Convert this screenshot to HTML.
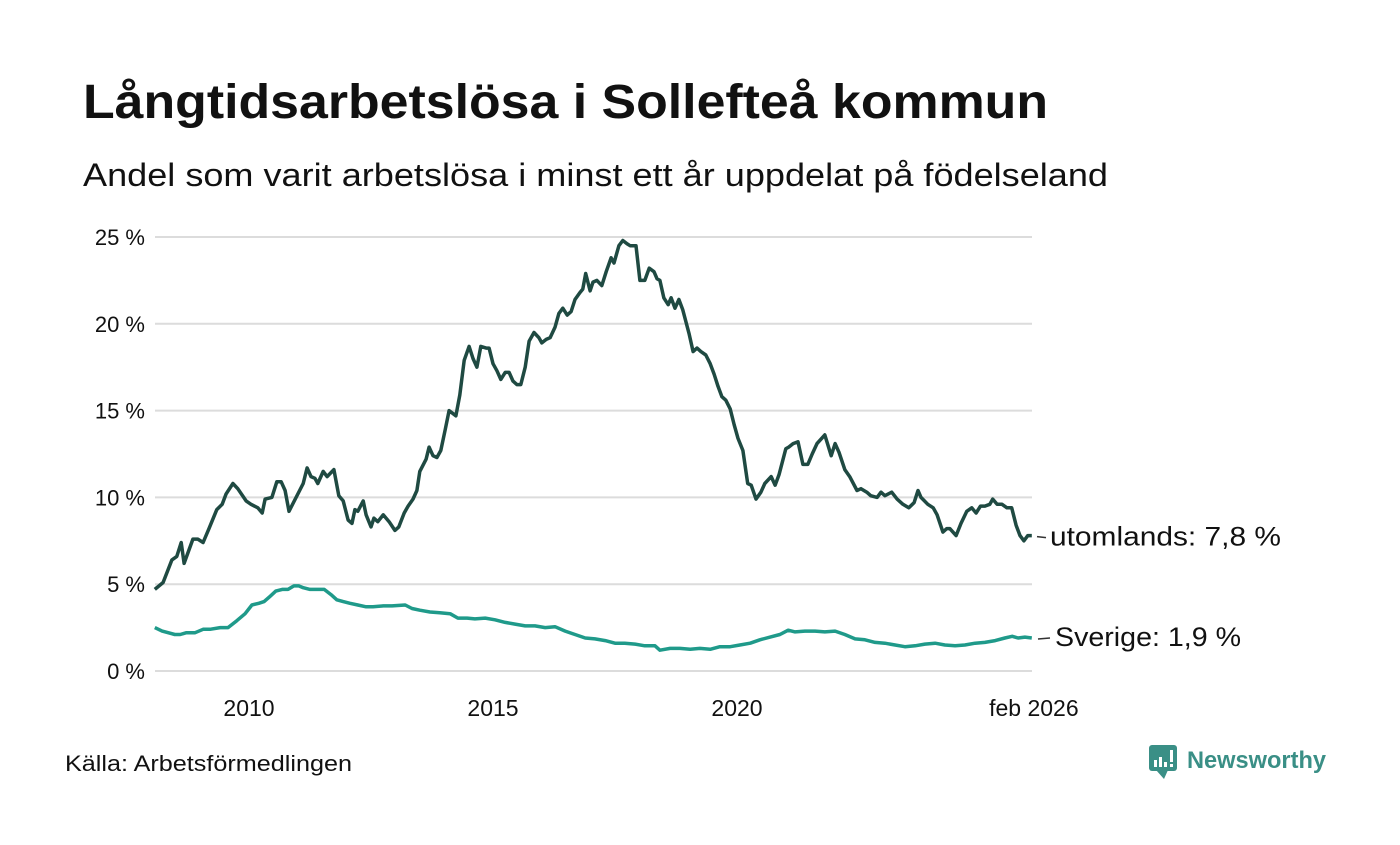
<!DOCTYPE html>
<html><head><meta charset="utf-8"><style>
body{margin:0;background:#fff;width:1400px;height:840px;overflow:hidden;font-family:"Liberation Sans","DejaVu Sans",sans-serif;}
</style></head><body>
<svg width="1400" height="840" xmlns="http://www.w3.org/2000/svg" style="font-family:'Liberation Sans','DejaVu Sans',sans-serif">
<text x="83" y="118" font-size="48" font-weight="bold" fill="#111" textLength="965" lengthAdjust="spacingAndGlyphs">Långtidsarbetslösa i Sollefteå kommun</text>
<text x="83" y="186" font-size="32" fill="#111" textLength="1025" lengthAdjust="spacingAndGlyphs">Andel som varit arbetslösa i minst ett år uppdelat på födelseland</text>
<g id="grid"></g>
<g id="lines"></g>
<g id="labels"></g>
<text x="65" y="771" font-size="22" fill="#111" textLength="287" lengthAdjust="spacingAndGlyphs">Källa: Arbetsförmedlingen</text>
<g>
<rect x="1149" y="745" width="28" height="26" rx="3" fill="#3a8f86"/>
<polygon points="1156,770 1164,779 1168,770" fill="#3a8f86"/>
<rect x="1154" y="760" width="3" height="7" fill="#fff"/><rect x="1159" y="757" width="3" height="10" fill="#fff"/><rect x="1164" y="762" width="3" height="5" fill="#fff"/><rect x="1170" y="750" width="3" height="12" fill="#fff"/><rect x="1170" y="764" width="3" height="3" fill="#fff"/>
<text x="1187" y="768" font-size="24" font-weight="bold" fill="#3a8f86" textLength="139" lengthAdjust="spacingAndGlyphs">Newsworthy</text>
</g>
</svg>
<script>
const yTicks=[0,5,10,15,20,25];
const yTickLabels=["0 %","5 %","10 %","15 %","20 %","25 %"];
const xTicks=[2010,2015,2020,2026.083];
const xTickLabels=["2010","2015","2020","feb 2026"];
const utDates=[2008.07,2008.24,2008.42,2008.52,2008.61,2008.67,2008.85,2008.95,2009.06,2009.18,2009.34,2009.45,2009.53,2009.67,2009.77,2009.94,2010.04,2010.18,2010.27,2010.33,2010.47,2010.57,2010.66,2010.74,2010.82,2011.11,2011.19,2011.27,2011.35,2011.41,2011.52,2011.60,2011.74,2011.84,2011.93,2012.03,2012.11,2012.17,2012.23,2012.34,2012.40,2012.50,2012.56,2012.64,2012.75,2012.87,2012.99,2013.07,2013.18,2013.26,2013.36,2013.44,2013.50,2013.63,2013.69,2013.77,2013.85,2013.93,2014.02,2014.10,2014.24,2014.32,2014.41,2014.51,2014.59,2014.67,2014.75,2014.86,2014.92,2015.00,2015.08,2015.16,2015.25,2015.33,2015.41,2015.49,2015.57,2015.66,2015.74,2015.84,2015.94,2016.00,2016.09,2016.17,2016.27,2016.35,2016.43,2016.52,2016.60,2016.68,2016.78,2016.84,2016.90,2016.99,2017.05,2017.13,2017.23,2017.32,2017.42,2017.48,2017.58,2017.66,2017.75,2017.81,2017.93,2018.01,2018.11,2018.20,2018.30,2018.36,2018.42,2018.50,2018.59,2018.65,2018.73,2018.81,2018.89,2019.02,2019.10,2019.18,2019.26,2019.36,2019.45,2019.53,2019.61,2019.69,2019.77,2019.86,2019.94,2020.02,2020.12,2020.22,2020.29,2020.39,2020.49,2020.57,2020.70,2020.78,2020.86,2021.00,2021.06,2021.15,2021.25,2021.35,2021.45,2021.54,2021.64,2021.80,2021.93,2022.01,2022.09,2022.21,2022.31,2022.46,2022.54,2022.66,2022.74,2022.87,2022.95,2023.03,2023.17,2023.28,2023.40,2023.52,2023.63,2023.71,2023.77,2023.91,2024.02,2024.10,2024.22,2024.30,2024.36,2024.49,2024.59,2024.71,2024.81,2024.90,2024.99,2025.08,2025.18,2025.24,2025.33,2025.43,2025.53,2025.63,2025.72,2025.80,2025.88,2025.96,2026.04];
const utValues=[4.7,5.1,6.4,6.6,7.4,6.2,7.6,7.6,7.4,8.2,9.3,9.6,10.2,10.8,10.5,9.8,9.6,9.4,9.1,9.9,10.0,10.9,10.9,10.4,9.2,10.8,11.7,11.2,11.1,10.8,11.5,11.2,11.6,10.1,9.8,8.7,8.5,9.3,9.2,9.8,9.0,8.3,8.8,8.6,9.0,8.6,8.1,8.3,9.1,9.5,9.9,10.4,11.5,12.2,12.9,12.4,12.3,12.7,13.9,15.0,14.7,15.9,17.9,18.7,18.0,17.5,18.7,18.6,18.6,17.7,17.3,16.8,17.2,17.2,16.7,16.5,16.5,17.5,19.0,19.5,19.2,18.9,19.1,19.2,19.8,20.6,20.9,20.5,20.7,21.4,21.8,22.0,22.9,21.9,22.4,22.5,22.2,23.0,23.8,23.5,24.5,24.8,24.6,24.5,24.5,22.5,22.5,23.2,23.0,22.6,22.5,21.5,21.1,21.5,20.9,21.4,20.8,19.4,18.4,18.6,18.4,18.2,17.7,17.1,16.4,15.8,15.6,15.1,14.2,13.4,12.7,10.8,10.7,9.9,10.3,10.8,11.2,10.7,11.3,12.8,12.9,13.1,13.2,11.9,11.9,12.5,13.1,13.6,12.4,13.1,12.6,11.6,11.2,10.4,10.5,10.3,10.1,10.0,10.3,10.1,10.3,9.9,9.6,9.4,9.7,10.4,10.0,9.6,9.4,9.0,8.0,8.2,8.2,7.8,8.5,9.2,9.4,9.1,9.5,9.5,9.6,9.9,9.6,9.6,9.4,9.4,8.4,7.8,7.5,7.8,7.8];
const seDates=[2008.07,2008.22,2008.48,2008.59,2008.71,2008.89,2009.06,2009.20,2009.41,2009.57,2009.75,2009.92,2010.06,2010.20,2010.31,2010.43,2010.55,2010.68,2010.80,2010.92,2011.02,2011.11,2011.25,2011.41,2011.54,2011.68,2011.80,2011.93,2012.07,2012.23,2012.40,2012.54,2012.75,2012.93,2013.20,2013.34,2013.50,2013.71,2013.91,2014.12,2014.28,2014.47,2014.63,2014.84,2015.04,2015.25,2015.45,2015.66,2015.86,2016.07,2016.27,2016.48,2016.68,2016.89,2017.09,2017.30,2017.50,2017.70,2017.91,2018.11,2018.32,2018.42,2018.63,2018.83,2019.04,2019.24,2019.45,2019.65,2019.86,2020.06,2020.27,2020.47,2020.68,2020.88,2021.05,2021.19,2021.39,2021.60,2021.80,2022.01,2022.21,2022.42,2022.62,2022.83,2023.03,2023.24,2023.44,2023.65,2023.85,2024.06,2024.26,2024.47,2024.67,2024.88,2025.08,2025.29,2025.49,2025.64,2025.76,2025.90,2026.04];
const seValues=[2.5,2.3,2.1,2.1,2.2,2.2,2.4,2.4,2.5,2.5,2.9,3.3,3.8,3.9,4.0,4.3,4.6,4.7,4.7,4.9,4.9,4.8,4.7,4.7,4.7,4.4,4.1,4.0,3.9,3.8,3.7,3.7,3.75,3.75,3.8,3.6,3.5,3.4,3.35,3.3,3.05,3.05,3.0,3.05,2.95,2.8,2.7,2.6,2.6,2.5,2.55,2.3,2.1,1.9,1.85,1.75,1.6,1.6,1.55,1.45,1.45,1.2,1.3,1.3,1.25,1.3,1.25,1.4,1.4,1.5,1.6,1.8,1.95,2.1,2.35,2.25,2.3,2.3,2.25,2.3,2.1,1.85,1.8,1.65,1.6,1.5,1.4,1.45,1.55,1.6,1.5,1.45,1.5,1.6,1.65,1.75,1.9,2.0,1.9,1.95,1.9];
const seriesNames=["utomlands: 7,8 %","Sverige: 1,9 %"];

const NS="http://www.w3.org/2000/svg";
const X=v=>249+(v-2010)*48.8;
const Y=v=>671-v*17.36;
function mk(tag,attrs,parent){const e=document.createElementNS(NS,tag);for(const k in attrs)e.setAttribute(k,attrs[k]);parent.appendChild(e);return e;}
const grid=document.getElementById('grid');
yTicks.forEach((t,i)=>{
  const l=mk('line',{x1:155,x2:1032,y1:Y(t),y2:Y(t),stroke:'#dcdcdc','stroke-width':2},grid);
  
  
  const tx=mk('text',{x:145,y:Y(t)+8,'text-anchor':'end','font-size':22,fill:'#111'},grid);
  tx.textContent=yTickLabels[i];
  
  
});
xTicks.forEach((t,i)=>{
  const tx=mk('text',{x:X(t),y:716,'text-anchor':'middle','font-size':23,fill:'#111'},grid);
  tx.textContent=xTickLabels[i];
  
  
});
const lines=document.getElementById('lines');
function draw(d,v,color,name){
  const p=mk('path',{d:d.map((t,i)=>(i?'L':'M')+X(t).toFixed(1)+','+Y(v[i]).toFixed(1)).join(''),fill:'none',stroke:color,'stroke-width':3.5,'stroke-linejoin':'round'},lines);
  
  
}
draw(seDates,seValues,'#1f9a8a','line-sverige');
draw(utDates,utValues,'#1f4a42','line-utomlands');
const lab=document.getElementById('labels');
const ul=mk('line',{x1:1037,x2:1046,y1:Y(utValues[utValues.length-1])+1,y2:Y(utValues[utValues.length-1])+2,stroke:'#333','stroke-width':1.5},lab);


const t1=mk('text',{x:1050,y:Y(utValues[utValues.length-1])+10,'font-size':27,fill:'#111',textLength:231,lengthAdjust:'spacingAndGlyphs'},lab);
t1.textContent=seriesNames[0];


const sl=mk('line',{x1:1038,x2:1050,y1:Y(seValues[seValues.length-1])+1,y2:Y(seValues[seValues.length-1]),stroke:'#333','stroke-width':1.5},lab);


const t2=mk('text',{x:1055,y:Y(seValues[seValues.length-1])+8,'font-size':27,fill:'#111',textLength:186,lengthAdjust:'spacingAndGlyphs'},lab);
t2.textContent=seriesNames[1];


</script>
</body></html>
